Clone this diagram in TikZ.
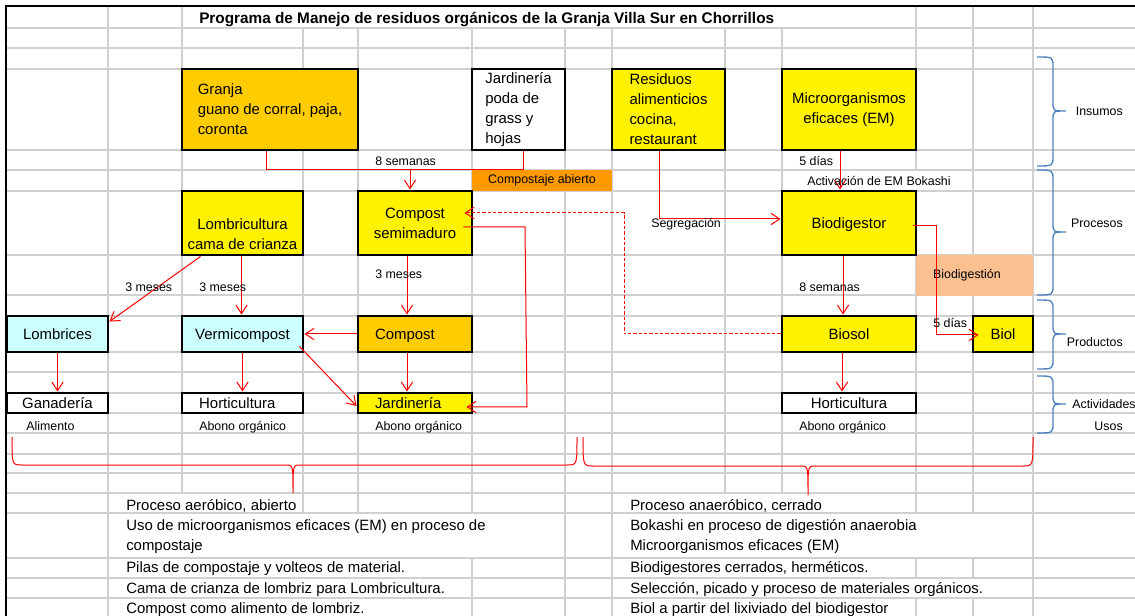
\documentclass[tikz,border=0pt]{standalone}
\usepackage{fontspec}
\setmainfont{Liberation Sans}
\usepackage{tikz}
\usetikzlibrary{calc}
\usetikzlibrary{arrows.meta}
\definecolor{gridgray}{RGB}{208,208,208}
\definecolor{gold}{RGB}{255,204,0}
\definecolor{lightcyan}{RGB}{204,255,255}
\definecolor{orangecell}{RGB}{255,153,0}
\definecolor{peach}{RGB}{250,192,144}
\definecolor{bracecol}{RGB}{79,129,189}
\newcommand{\boxfont}{\fontsize{11.2}{15}\selectfont}
\newcommand{\lblfont}{\fontsize{9.3}{11}\selectfont}
\newcommand{\titlefont}{\fontsize{11.5}{14}\selectfont\bfseries}

\begin{document}
\begin{tikzpicture}[x=0.75pt, y=-0.75pt, >={Straight Barb[length=6.5pt,width=8.5pt]},
gridline/.style={draw=gridgray, line width=1.3pt},
shapebox/.style={draw=black, line width=2.2pt, inner sep=0pt, font=\boxfont, align=center},
oneline/.style={text height=8pt, text depth=0pt},
sz/.style 2 args={minimum width=#1*0.75pt, minimum height=#2*0.75pt},
lbl/.style={font=\lblfont, inner sep=0pt, text height=6.7pt, text depth=0pt},
txt/.style={font=\boxfont, inner sep=0pt, text height=8pt, text depth=0pt, anchor=west},
con/.style={draw=red, line width=0.75pt},
bluebrace/.style={draw=bracecol, line width=1pt},
redbrace/.style={draw=red, line width=0.75pt}]
\useasboundingbox (0,0) rectangle (1135,616);

% sheet grid
\foreach \y in {28,48,69,150,170,191,255,295,316,352,372,393,413,433,454,473,493,513,558,578,598}
  \draw[gridline] (6,\y) -- (1135,\y);
\foreach \x in {108,182,916,973,1033} \draw[gridline] (\x,6) -- (\x,28);
\foreach \x in {108,182,303,358,472,565,612,725,782,973,1033} \draw[gridline] (\x,28) -- (\x,493);
\draw[gridline] (916,28) -- (916,170) (916,191) -- (916,493);
\foreach \x in {108,303,358,472,565,612,916,973,1033} \draw[gridline] (\x,493) -- (\x,513);
\foreach \x in {108,565,612,1033} \draw[gridline] (\x,513) -- (\x,558);
\foreach \x in {108,472,565,612,916,973,1033} \draw[gridline] (\x,558) -- (\x,578);
\foreach \x in {108,472,565,612,1033} \draw[gridline] (\x,578) -- (\x,598);
\foreach \x in {108,472,565,612,916,973,1033} \draw[gridline] (\x,598) -- (\x,616);
\draw[line width=1.6pt] (6,616) -- (6,6) -- (1135,6);

\node[anchor=west, font=\titlefont, inner sep=0pt, text height=8.2pt, text depth=0pt] (title) at (199,18)
  {Programa de Manejo de residuos orgánicos de la Granja Villa Sur en Chorrillos};

% coloured cells
\node[sz={140}{21}, fill=orangecell, font=\lblfont, inner sep=0pt] (compab) at (542,180.5) {Compostaje abierto};
\node[sz={117}{41}, fill=peach, rounded corners=2pt, font=\lblfont, inner sep=0pt, text width=62pt, align=left] (biodg) at (974.5,275.5) {Biodigestión};

% insumos
\node[shapebox, fill=gold, sz={176}{81}, align=left] (granja) at (270,109.5) {Granja\\guano de corral, paja,\\coronta};
\node[shapebox, fill=white, sz={93}{81}, align=left] (poda) at (518.5,109.5) {Jardinería\\poda de\\grass y\\hojas};
\node[shapebox, fill=yellow, sz={113}{81}, align=left] (resid) at (668.5,109.5) {Residuos\\alimenticios\\cocina,\\restaurant};
\node[shapebox, fill=yellow, sz={134}{81}] (micro) at (849,109.5) {Microorganismos\\eficaces (EM)};

% procesos
\node[shapebox, fill=yellow, sz={121}{64}] (lombri) at (242.5,223) {\strut\\Lombricultura\\cama de crianza};
\node[shapebox, fill=yellow, sz={114}{64}] (semi) at (415,223) {Compost\\semimaduro};
\node[shapebox, oneline, fill=yellow, sz={134}{64}] (biodig) at (849,223) {Biodigestor};

% productos
\node[shapebox, oneline, fill=lightcyan, sz={101}{36}] (lombrices) at (57.5,334) {Lombrices};
\node[shapebox, oneline, fill=lightcyan, sz={121}{36}] (vermi) at (242.5,334) {Vermicompost};
\node[shapebox, oneline, fill=gold, sz={114}{36}, text width=60pt, align=left] (compost) at (415,334) {Compost};
\node[shapebox, oneline, fill=yellow, sz={134}{36}] (biosol) at (849,334) {Biosol};
\node[shapebox, oneline, fill=yellow, sz={60}{36}] (biol) at (1003,334) {Biol};

% actividades
\node[shapebox, oneline, fill=white, sz={101}{20}] (ganad) at (57.5,403) {Ganadería};
\node[shapebox, oneline, fill=white, sz={121}{20}, text width=65pt, align=left] (horti) at (242.5,403) {Horticultura};
\node[shapebox, oneline, fill=yellow, sz={114}{20}, text width=60pt, align=left] (jardin) at (415,403) {Jardinería};
\node[shapebox, oneline, fill=white, sz={134}{20}] (horti2) at (849,403) {Horticultura};

% connectors
\coordinate (g1) at (266,170);
\coordinate (g2) at (523,170);
\coordinate (g3) at (410,170);
\draw[con] (granja.south -| g1) -- (g1) -- (g2) -- (poda.south -| g2);
\draw[con,->] (g3) -- (semi.north -| g3);
\draw[con,->] ($(micro.south)+(-9,0)$) -- ($(biodig.north)+(-9,0)$);
\coordinate (rs) at (659,219);
\draw[con,->] (resid.south -| rs) -- (rs) -- (biodig.west |- rs);
\coordinate (dv) at (624,213);
\draw[con,->,dash pattern=on 2.5pt off 1.5pt] (biosol.west) -| (dv) -- ($(semi.east)+(-9,-10)$);
\coordinate (sv1) at (525,227);
\coordinate (sv2) at (527,407);
\draw[con,->] ($(semi.east)+(-10,4)$) -- (sv1) -- (sv2) -- ($(jardin.east)+(-7,4)$);
\draw[con,->] ($(semi.south)+(-8,0)$) -- ($(compost.north)+(-8,0)$);
\draw[con,->] ($(compost.south)+(-8,0)$) -- ($(jardin.north)+(-8,0)$);
\draw[con,->] ($(lombri.south)+(-42,0)$) -- ($(lombrices.north east)+(0,7)$);
\draw[con,->] ($(lombri.south)+(-1,0)$) -- ($(vermi.north)+(-1,0)$);
\draw[con,->] (compost.west) -- (vermi.east);
\draw[con,->] ($(vermi.south east)+(-5,-7)$) -- ($(jardin.west)+(0,3)$);
\draw[con,->] (lombrices.south) -- (ganad.north);
\draw[con,->] (vermi.south) -- (horti.north);
\draw[con,->] ($(biodig.south)+(-6,0)$) -- ($(biosol.north)+(-6,0)$);
\coordinate (bv1) at (936,226);
\coordinate (bv2) at (936,335);
\draw[con,->] ($(biodig.east)+(-4,3)$) -- (bv1) -- (bv2) -- ($(biol.west)+(7,1)$);
\draw[con,->] ($(biosol.south)+(-7,0)$) -- ($(horti2.north)+(-7,0)$);

% labels
\node[lbl, anchor=west] (l8s) at (375,161) {8 semanas};
\node[lbl, anchor=west] (l5d) at (799,161) {5 días};
\node[lbl, anchor=west] (lact) at (807,181) {Activación de EM Bokashi};
\node[lbl, anchor=west] (lseg) at (651,223) {Segregación};
\node[lbl, anchor=west] (l3a) at (125,287) {3 meses};
\node[lbl, anchor=west] (l3b) at (199,287) {3 meses};
\node[lbl, anchor=west] (l3c) at (375,274) {3 meses};
\node[lbl, anchor=west] (l8r) at (799,287) {8 semanas};
\node[lbl, anchor=west] (l5b) at (933,323) {5 días};
\node[lbl, anchor=west] (lali) at (26,426) {Alimento};
\node[lbl, anchor=west] (lab1) at (199,426) {Abono orgánico};
\node[lbl, anchor=west] (lab2) at (375,426) {Abono orgánico};
\node[lbl, anchor=west] (lab3) at (799,426) {Abono orgánico};

% braces on the right
\foreach \ta/\tm/\tb in {57/111/166, 170/232/295, 300/334/369, 376/404/433}
  \draw[bluebrace] (1037,\ta) .. controls (1053,\ta) .. (1053,\ta+10) -- (1053,\tm-9)
    .. controls (1053,\tm) .. (1066,\tm) .. controls (1053,\tm) .. (1053,\tm+9)
    -- (1053,\tb-10) .. controls (1053,\tb) .. (1037,\tb);
\node[lbl, anchor=east] (lins) at (1123,111) {Insumos};
\node[lbl, anchor=east] (lpro) at (1123,223) {Procesos};
\node[lbl, anchor=east] (lprd) at (1123,342) {Productos};
\node[lbl, anchor=west] (lacts) at (1072,404) {Actividades};
\node[lbl, anchor=east] (luso) at (1123,426) {Usos};

% braces at the bottom
\draw[redbrace] (12,437) .. controls (12,465) .. (22,465) -- (286,465) .. controls (293,465) .. (293,493)
  .. controls (293,465) .. (300,465) -- (567,465) .. controls (577,465) .. (577,437);
\draw[redbrace] (583,437) .. controls (583,466) .. (593,466) -- (801,466) .. controls (808,466) .. (808,495)
  .. controls (808,466) .. (815,466) -- (1023,466) .. controls (1033,466) .. (1033,437);

% notes
\node[txt] (a1) at (126,505) {Proceso aeróbico, abierto};
\node[txt] (a2) at (126,525) {Uso de microorganismos eficaces (EM) en proceso de};
\node[txt] (a3) at (126,545) {compostaje};
\node[txt] (a4) at (126,567) {Pilas de compostaje y volteos de material.};
\node[txt] (a5) at (126,588) {Cama de crianza de lombriz para Lombricultura.};
\node[txt] (a6) at (126,608) {Compost como alimento de lombriz.};
\node[txt] (b1) at (630,505) {Proceso anaeróbico, cerrado};
\node[txt] (b2) at (630,525) {Bokashi en proceso de digestión anaerobia};
\node[txt] (b3) at (630,545) {Microorganismos eficaces (EM)};
\node[txt] (b4) at (630,567) {Biodigestores cerrados, herméticos.};
\node[txt] (b5) at (630,588) {Selección, picado y proceso de materiales orgánicos.};
\node[txt] (b6) at (630,608) {Biol a partir del lixiviado del biodigestor};
\end{tikzpicture}
\end{document}
